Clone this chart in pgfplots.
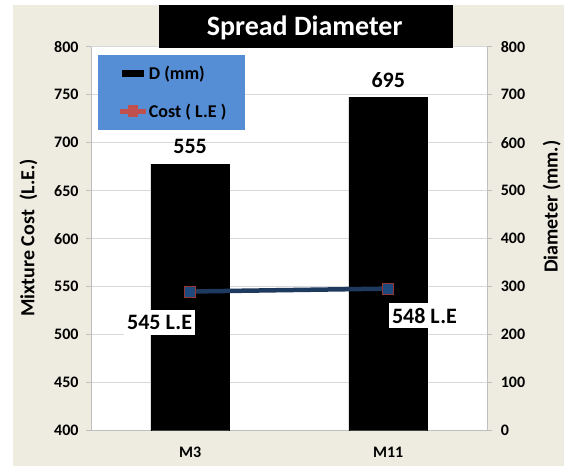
\documentclass[border=0pt]{standalone}
\usepackage{pgfplots}
\pgfplotsset{compat=1.18}
\usepackage{fontspec}
\setmainfont{Carlito}
\definecolor{bgbeige}{HTML}{EEECE1}
\definecolor{legblue}{HTML}{558ED5}
\definecolor{legred}{HTML}{C0504D}
\definecolor{linenavy}{HTML}{1F3A5F}
\definecolor{markfill}{HTML}{1F497D}
\definecolor{markedge}{HTML}{943634}
\definecolor{gridgray}{HTML}{D9D9D9}
\definecolor{axisgray}{HTML}{BFBFBF}
\newcommand{\tickfont}{\fontsize{16}{19}\selectfont\bfseries}
\pgfplotsset{
  base/.style={
    at={(91pt,35.3pt)}, anchor=south west,
    scale only axis, width=396.3pt, height=384pt,
    xmin=-0.5, xmax=1.5,
    /pgf/number format/assume math mode=true,
    tick label style={font=\tickfont, text=black},
    tick align=outside, major tick length=5pt,
    tick style={axisgray, line width=0.8pt},
    axis line style={axisgray, line width=0.8pt},
  }
}
\begin{document}
\begin{tikzpicture}[x=1pt,y=1pt]
\fill[white] (0,0) rectangle (564,466);
\fill[bgbeige] (13,0) rectangle (564,461.3);
\fill[white] (91,35.3) rectangle (487.3,419.3);
\begin{axis}[base,
  ymin=0, ymax=800, ytick={0,100,...,800},
  axis y line*=right, axis x line*=bottom,
  xtick={0,1}, xticklabels={M3,M11},
  x tick style={draw=none},
  xticklabel style={yshift=-8pt},
  yticklabel style={xshift=5pt},
  ymajorgrids, grid style={gridgray, line width=0.8pt},
  ylabel={Diameter (mm.)},
  every axis y label/.style={at={(axis description cs:1.1625,0.5833)}, anchor=center, rotate=90, font=\fontsize{20}{24}\selectfont\bfseries},
]
\addplot[ybar, bar width=78.5pt, fill=black, draw=black,
  nodes near coords,
  every node near coord/.append style={font=\fontsize{22}{26}\selectfont\bfseries, text=black, anchor=center, yshift=17.5pt}]
  coordinates {(0,555) (1,695)};
\end{axis}
\begin{axis}[base,
  ymin=400, ymax=800, ytick={400,450,...,800},
  axis y line*=left, axis x line=none,
  yticklabel style={xshift=-4pt},
  ylabel={Mixture Cost\ \ (L.E.)},
  every axis y label/.style={at={(axis description cs:-0.158,0.502)}, anchor=center, rotate=90, font=\fontsize{20}{24}\selectfont\bfseries},
  legend cell align=left,
  legend style={at={(axis description cs:0.0184,0.9784)}, anchor=north west, fill=legblue, draw=none,
    inner xsep=18.4pt, inner ysep=8pt, row sep=17.4pt, column sep=0pt,
    nodes={inner sep=0pt, text height=16.1pt, text depth=4.5pt, font=\fontsize{18}{22}\selectfont\bfseries}},
]
\addlegendimage{black, legend image code/.code={\path[draw=none, fill=none] (0pt,-6pt) rectangle (26.5pt,6pt); \fill[black, draw=none] (2.3pt,-3.65pt) rectangle (24.3pt,3.65pt);}}
\addlegendentry{D (mm)}
\addplot[linenavy, line width=4.5pt, mark=square*, mark size=5.5pt,
  mark options={fill=markfill, draw=markedge, line width=0.8pt},
  legend image code/.code={\draw[legred, line width=5.5pt] (0pt,0pt) -- (26.5pt,0pt); \fill[legred, draw=none] (8.3pt,-6pt) rectangle (18.3pt,6pt);}]
  coordinates {(0,545) (1,548)};
\addlegendentry{Cost ( L.E )}
\node[fill=white, inner xsep=3pt, inner ysep=5pt, font=\fontsize{22}{26}\selectfont\bfseries, xshift=-30.5pt, yshift=-31pt] at (axis cs:0,545) {545 L.E};
\node[fill=white, inner xsep=3pt, inner ysep=5pt, font=\fontsize{22}{26}\selectfont\bfseries, xshift=36.2pt, yshift=-27pt] at (axis cs:1,548) {548 L.E};
\end{axis}
\fill[black] (158.7,417.7) rectangle (453.3,461.3);
\node[anchor=base, text=white, font=\fontsize{28}{32}\selectfont\bfseries, inner sep=0pt] at (304.7,430) {Spread Diameter};
\end{tikzpicture}
\end{document}
